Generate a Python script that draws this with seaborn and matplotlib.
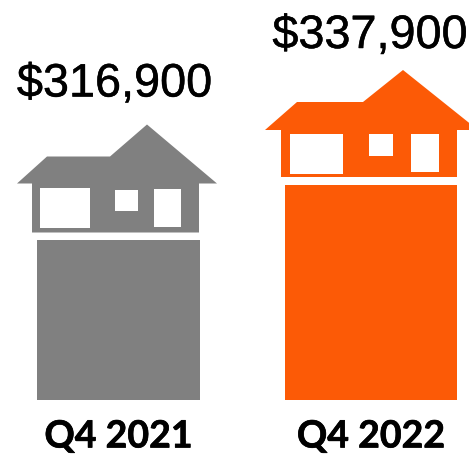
import matplotlib
matplotlib.use("Agg")
import matplotlib.pyplot as plt
import matplotlib.patheffects as pe
import seaborn as sns
from matplotlib.patches import Polygon
from matplotlib.transforms import Affine2D

quarters = ["Q4 2021", "Q4 2022"]
prices = [316900, 337900]
colors = ["#808080", "#FC5A06"]

W, H = 469, 455
BASE_PX = 400.0            # pixel row of the bar baseline
PX_PER_UNIT = 252.5        # x pixels between the two categories
LEFT_PX = 118.5            # pixel column of the first category
DOLLARS_PER_PX = 21000 / 54.5
BASELINE_VALUE = 316900 - 160.5 * DOLLARS_PER_PX
BAR_PX = [163, 172]

# House outlines, pixels relative to (bar centre, bar top); y grows downwards
HOUSES = [
    dict(outline=[(-101.5, -56), (-71.5, -83), (-8.5, -83), (28.5, -115), (98.5, -56),
                  (80.5, -56), (80.5, -7), (-86.5, -7), (-86.5, -56)],
         windows=[(-78.5, -52, -28.5, -12), (-3.5, -50, 19.5, -29), (35.5, -51, 62.5, -13)],
         label=(-4, 143)),
    dict(outline=[(-106, -55), (-74, -83), (-8, -83), (32, -115), (107, -55),
                  (86, -55), (86, -8), (-90, -8), (-90, -55)],
         windows=[(-81, -51, -28, -11), (-2, -51, 22, -29), (40, -51, 68, -13)],
         label=(-1, 137)),
]

sns.set_theme(style="white")
plt.rcParams["font.family"] = ["Liberation Sans", "DejaVu Sans"]

fig = plt.figure(figsize=(W / 100, H / 100), dpi=100)
ax = fig.add_axes([0, 1 - BASE_PX / H, 1, BASE_PX / H])

sns.barplot(x=quarters, y=prices, hue=quarters, palette=colors, legend=False,
            dodge=False, ax=ax, saturation=1)

ax.set_xlim(-LEFT_PX / PX_PER_UNIT, (W - LEFT_PX) / PX_PER_UNIT)
ax.set_ylim(BASELINE_VALUE, BASELINE_VALUE + BASE_PX * DOLLARS_PER_PX)
ax.set_xticks(range(len(quarters)))
ax.set_xticklabels(quarters, fontsize=27, fontweight="bold", family="Lato", color="#000000",
                   path_effects=[pe.withStroke(linewidth=0.5, foreground="black")])
ax.tick_params(axis="x", length=0, pad=14)
ax.set_yticks([])
ax.set_xlabel("")
ax.set_ylabel("")
sns.despine(ax=ax, left=True, bottom=True, top=True, right=True)
ax.patch.set_alpha(0)

for i, (patch, width) in enumerate(zip(ax.patches, BAR_PX)):
    w = width / PX_PER_UNIT
    patch.set_x(i - w / 2)
    patch.set_width(w)
    patch.set_linewidth(0)

fig.canvas.draw()
for i, (value, color, house) in enumerate(zip(prices, colors, HOUSES)):
    cx, cy = ax.transData.transform((i, value))
    tr = Affine2D().scale(1, -1).translate(cx, cy)
    ax.add_patch(Polygon(house["outline"], closed=True, facecolor=color, edgecolor="none",
                         transform=tr, clip_on=False))
    for x0, y0, x1, y1 in house["windows"]:
        ax.add_patch(Polygon([(x0, y0), (x1, y0), (x1, y1), (x0, y1)], closed=True,
                             facecolor="white", edgecolor="none", transform=tr, clip_on=False))
    dx, dy = house["label"]
    ax.annotate(f"${value:,}", xy=(i, value), xytext=(dx * 0.72, dy * 0.72),
                textcoords="offset points", ha="center", va="baseline",
                fontsize=33.7, color="black", annotation_clip=False,
                path_effects=[pe.withStroke(linewidth=0.35, foreground="black")])

fig.savefig("out.png", dpi=100)
